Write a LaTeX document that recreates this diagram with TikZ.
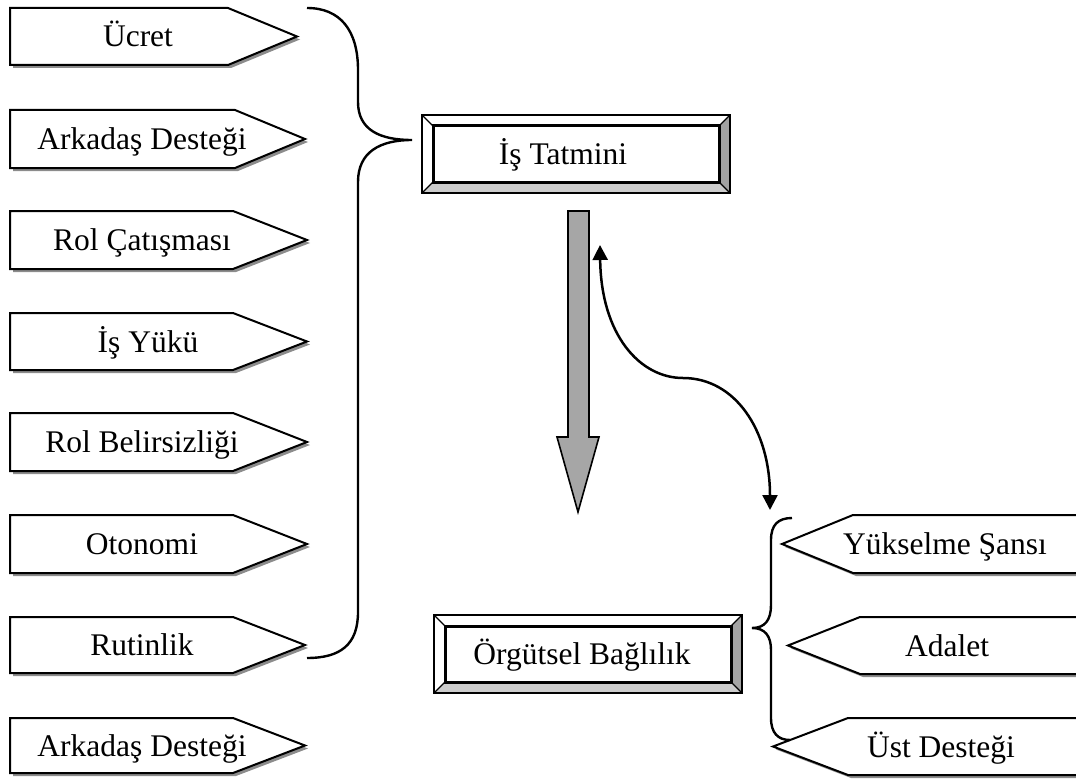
\documentclass[tikz,border=0pt]{standalone}
\usepackage{fontspec}
\setmainfont{Liberation Serif}
\usetikzlibrary{arrows.meta}

\definecolor{shadegray}{gray}{0.55}
\definecolor{bevlight}{gray}{0.80}
\definecolor{bevdark}{gray}{0.64}
\definecolor{blockgray}{gray}{0.65}

\tikzset{
  outline/.style={draw=black, line width=2pt, line join=miter},
  shadowfill/.style={fill=shadegray},
  lbl/.style={font=\fontsize{31.5}{36}\selectfont, inner sep=0pt,
              text height=21pt, text depth=0pt, anchor=center},
  bracket/.style={draw=black, line width=2.4pt},
  bevedge/.style={draw=black, line width=1.8pt},
  bevinner/.style={draw=black, line width=3pt},
  bevdiag/.style={draw=black, line width=1.1pt},
  linkarrow/.style={draw=black, line width=2.5pt,
                    {Triangle[length=15pt,width=15pt]}-{Triangle[length=15pt,width=15pt]}},
}

% pointer box: name, base x, top y, bottom y, shoulder x, tip x, text x, text
\newcommand{\pointerbox}[8]{%
  \fill[shadowfill, shift={(3,3)}] (#2,#3) -- (#5,#3) -- (#6,{(#3+#4)/2}) -- (#5,#4) -- (#2,#4) -- cycle;
  \path[outline, fill=white] (#2,#3) -- (#5,#3) -- (#6,{(#3+#4)/2}) -- (#5,#4) -- (#2,#4) -- cycle;
  \node[lbl] (#1) at (#7,{(#3+#4)/2}) {#8};
}

% bevelled frame: name, x1, y1, x2, y2, text x, text
\newcommand{\bevelbox}[7]{%
  \fill[white] (#2,#3) rectangle (#4,#5);
  \fill[bevlight] (#2,#5) -- (#4,#5) -- ({#4-11},{#5-11}) -- ({#2+11},{#5-11}) -- cycle;
  \fill[bevdark] (#4,#3) -- (#4,#5) -- ({#4-11},{#5-11}) -- ({#4-11},{#3+11}) -- cycle;
  \path[bevdiag] (#2,#3) -- ({#2+11},{#3+11}) (#4,#3) -- ({#4-11},{#3+11})
                 (#2,#5) -- ({#2+11},{#5-11}) (#4,#5) -- ({#4-11},{#5-11});
  \path[bevedge] (#2,#3) rectangle (#4,#5);
  \path[bevinner] ({#2+11},{#3+11}) rectangle ({#4-11},{#5-11});
  \node[lbl] (#1) at (#6,{(#3+#5)/2}) {#7};
}

\begin{document}
\begin{tikzpicture}[x=1pt, y=-1pt]
  \useasboundingbox (0,0) rectangle (1076,781);
  \clip (0,0) rectangle (1076,781);

  % factors on the left
  \pointerbox{ucret}{10}{8}{65}{228}{297}{138}{Ücret}
  \pointerbox{arkadasA}{10}{110}{168}{235}{305}{142}{Arkadaş Desteği}
  \pointerbox{rolcat}{10}{211}{269}{233}{307}{142}{Rol Çatışması}
  \pointerbox{isyuku}{10}{313}{370}{233}{307}{148}{İş Yükü}
  \pointerbox{rolbel}{10}{413}{471}{233}{307}{142}{Rol Belirsizliği}
  \pointerbox{otonomi}{10}{515}{573}{233}{307}{142}{Otonomi}
  \pointerbox{rutin}{10}{617}{673}{233}{305}{142}{Rutinlik}
  \pointerbox{arkadasB}{10}{718}{773}{233}{305}{142}{Arkadaş Desteği}

  % factors on the right
  \pointerbox{yukselme}{1090}{515}{573}{853}{782}{945}{Yükselme Şansı}
  \pointerbox{adalet}{1090}{617}{674}{860}{788}{947}{Adalet}
  \pointerbox{ustdestek}{1090}{718}{775}{848}{773}{941}{Üst Desteği}

  % central boxes
  \bevelbox{tatmin}{422}{115}{730}{193}{563}{İş Tatmini}
  \bevelbox{baglilik}{434}{615}{742}{693}{582}{Örgütsel Bağlılık}

  % left brace gathering the factors into job satisfaction
  \path[bracket] (307,8) .. controls (340,8) and (358,30) .. (358,70)
        -- (358,102) .. controls (358,130) and (380,140) .. (412,140)
        .. controls (380,140) and (358,152) .. (358,182)
        -- (358,612) .. controls (358,645) and (340,658) .. (307,658);

  % right brace gathering the factors into commitment
  \path[bracket] (792,518) .. controls (778,518) and (771,525) .. (771,540)
        -- (771,605) .. controls (771,620) and (765,628) .. (752,628)
        .. controls (765,628) and (771,636) .. (771,650)
        -- (771,718) .. controls (771,733) and (778,740) .. (790,740);

  % block arrow from satisfaction towards commitment
  \path[draw=black, line width=1.6pt, fill=blockgray, line join=miter]
        (568,211) -- (589,211) -- (589,437) -- (599,437) -- (578,512)
        -- (557,437) -- (568,437) -- cycle;

  % two-way link between the arrow and the right-hand group
  \coordinate (linktop) at (600,245);
  \coordinate (linkbot) at (770,510);
  \path[linkarrow] (linktop) .. controls (601,335) and (640,378) .. (683,378)
        .. controls (735,378) and (770,430) .. (linkbot);
\end{tikzpicture}
\end{document}
